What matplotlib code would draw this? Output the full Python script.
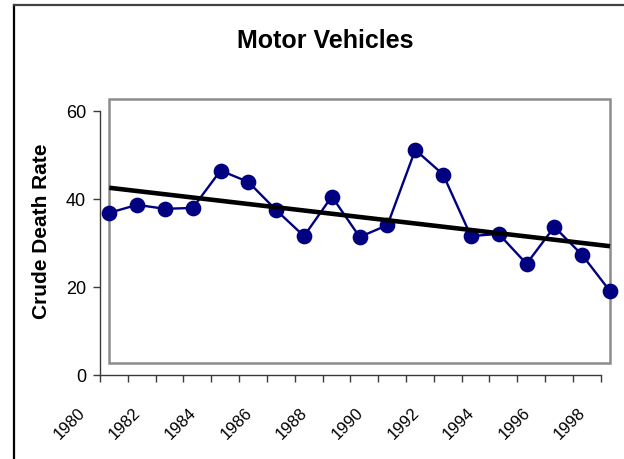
import matplotlib

matplotlib.use("Agg")

import matplotlib.pyplot as plt  # noqa: E402
import numpy as np  # noqa: E402
from matplotlib.patches import Rectangle  # noqa: E402
from matplotlib.transforms import ScaledTranslation  # noqa: E402

plt.rcParams["font.family"] = ["Liberation Sans", "DejaVu Sans"]

# ---------------------------------------------------------------------------
# Data
# ---------------------------------------------------------------------------
years = np.arange(1980, 1999)
death_rate = [36.8, 38.6, 37.7, 37.9, 46.4, 43.8, 37.4, 31.5, 40.5, 31.3,
              34.0, 51.1, 45.5, 31.5, 32.0, 25.2, 33.6, 27.2, 19.0]
y_ticks = [0, 20, 40, 60]
x_tick_labels = [str(y) if y % 2 == 0 else "" for y in years]

title = "Motor Vehicles"
y_label = "Crude Death Rate"

NAVY = "#000080"
W, H = 624, 460
DPI = 100

fig = plt.figure(figsize=(W / DPI, H / DPI), dpi=DPI)
fig.patch.set_facecolor("white")

# axis frame in pixel units (left, top, right, bottom)
ax_l, ax_t, ax_r, ax_b = 100, 111.7, 600.7, 375.7
ax = fig.add_axes([ax_l / W, (H - ax_b) / H, (ax_r - ax_l) / W, (ax_b - ax_t) / H])
ax.set_xlim(years[0], years[-1])
ax.set_ylim(y_ticks[0], y_ticks[-1])
for side in ("top", "right"):
    ax.spines[side].set_visible(False)
for side in ("left", "bottom"):
    ax.spines[side].set_color("#3a3a3a")
    ax.spines[side].set_linewidth(1.0)

ax.set_yticks(y_ticks)
ax.set_xticks(years)
ax.set_xticklabels(x_tick_labels, rotation=45, ha="right", va="top")
ax.tick_params(axis="both", direction="out", length=5, width=1.0,
               color="#3a3a3a")
ax.tick_params(axis="y", labelsize=13, pad=5)
ax.tick_params(axis="x", labelsize=12, pad=16)
shift_lbl = ScaledTranslation(-12 / DPI, 0, fig.dpi_scale_trans)
for lbl in ax.get_xticklabels():
    lbl.set_transform(lbl.get_transform() + shift_lbl)

# the plot-area box and series sit slightly offset from the axis lines
box_shift = ScaledTranslation(9.3 / DPI, 12 / DPI, fig.dpi_scale_trans)
ax.add_patch(Rectangle((0, 0), 1, 1, transform=ax.transAxes + box_shift,
                       fill=False, edgecolor="#8c8c8c", linewidth=1.8,
                       clip_on=False, zorder=1))

data_shift = ax.transData + ScaledTranslation(9.3 / DPI, 0, fig.dpi_scale_trans)
ax.plot(years, death_rate, color=NAVY, linewidth=1.7, marker="o",
        markersize=10.3, markerfacecolor=NAVY, markeredgecolor=NAVY,
        transform=data_shift, clip_on=False, zorder=3)

coef = np.polyfit(years, death_rate, 1)
ends = np.array([years[0], years[-1]])
ax.plot(ends, np.polyval(coef, ends), color="black", linewidth=3.3,
        solid_capstyle="butt", transform=data_shift, clip_on=False, zorder=4)

fig.text(325 / W, 1 - 41 / H, title, ha="center", va="center",
         fontsize=18, fontweight="bold")
fig.text(42 / W, 1 - 231 / H, y_label, ha="center", va="center",
         rotation=90, fontsize=15, fontweight="bold")

# outer chart border
fig.add_artist(plt.Line2D([14 / W, 14 / W], [0, 1 - 6 / H], color="black",
                          linewidth=1.6, transform=fig.transFigure))
fig.add_artist(plt.Line2D([14 / W, 1], [1 - 6 / H, 1 - 6 / H], color="#404040",
                          linewidth=1.6, transform=fig.transFigure))

fig.savefig("out.png", dpi=DPI)
plt.close(fig)
